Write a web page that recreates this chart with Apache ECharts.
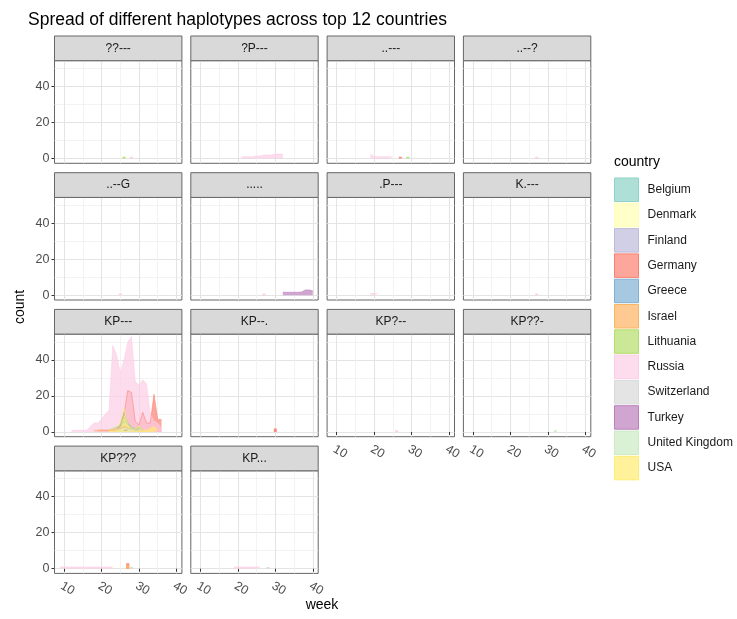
<!DOCTYPE html>
<html>
<head>
<meta charset="utf-8">
<script src="https://cdn.jsdelivr.net/npm/echarts@6/dist/echarts.min.js"></script>
<style>html,body{margin:0;padding:0;background:#fff;}#c{width:737px;height:619px;}</style>
</head>
<body>
<div id="c"></div>
<script>
// ---------- data ----------
const countries = ["Belgium","Denmark","Finland","Germany","Greece","Israel","Lithuania","Russia","Switzerland","Turkey","United Kingdom","USA"];
const palette = ["#8DD3C7","#FFFFB3","#BEBADA","#FB8072","#80B1D3","#FDB462","#B3DE69","#FCCDE5","#D9D9D9","#BC80BD","#CCEBC5","#FFED6F"];
const panelNames = ["??---","?P---","..---","..--?","..--G",".....",".P---","K.---","KP---","KP--.","KP?--","KP??-","KP???","KP..."];
const xTicks = [10,20,30,40];
const yTicks = [0,20,40];

// KP--- panel (weekly counts, null = no record)
const kpWeeks     = [12,13,14,15,16,17,18,19,20,21,22,23,24,25,26,27,28,29,30,31,32,33,34,35,36];
const kpBelgium   = [null,null,null,null,null,null,null,null,null,null,null,null,2,3,6,4,3,1,2,1,null,null,null,null,null];
const kpDenmark   = [null,null,null,null,null,null,null,null,null,null,null,null,null,null,2,1,1,null,null,null,null,null,null,null,null];
const kpFinland   = [null,null,null,null,null,null,null,null,null,null,null,1,2,2,3,2,1,null,null,null,null,null,null,null,null];
const kpGermany   = [null,null,null,null,null,null,null,1,1,1,1,1,2,3,10,23,22,6,4,11,5,5,21,7,7];
const kpGreece    = [null,null,null,null,null,null,null,null,null,null,null,null,2,4,11,5,2,1,2,null,null,null,null,null,null];
const kpIsrael    = [null,null,null,null,null,null,1,1,1,1,1,1,1,2,3,2,2,1,1,null,null,null,null,null,null];
const kpLithuania = [null,null,null,null,null,null,null,null,null,null,1,2,3,4,8,5,3,2,3,1,null,null,null,null,null];
const kpRussia    = [1,1,1,1,1,3,5,5,7,10,12,48,43,33,40,50,53,28,26,29,27,10,6,5,2];
const kpSwitz     = [null,null,null,null,null,null,null,null,null,null,null,null,1,1,2,1,1,1,1,null,null,null,null,null,null];
const kpTurkey    = [null,null,null,null,null,null,null,null,null,null,null,null,null,null,1,1,null,null,null,null,null,null,null,null,null];
const kpUK        = [null,null,null,null,null,null,null,null,null,null,null,null,null,1,2,2,1,1,null,null,null,null,null,null,null];
const kpUSA       = [null,null,null,null,null,null,null,null,null,null,1,1,2,5,13,4,2,1,3,1,1,2,3,1,null];

// small panels: [week, count] pairs
const p_qq_lithuania   = [[26,1]];
const p_qq_russia      = [[28,1]];
const p_qP_russia      = [[21,1],[22,1],[23,1],[24,1],[25,1.5],[26,1.5],[27,2],[28,2],[29,2],[30,2.5],[31,2.5],[32,2.5]];
const p_dd_russia      = [[19,2.5],[20,1],[21,1],[22,1],[23,1],[24,1],[25,1]];
const p_dd_germany     = [[27,1]];
const p_dd_lithuania   = [[29,1]];
const p_ddq_russia     = [[27,1]];
const p_ddG_russia     = [[25,1]];
const p_dots_russia    = [[27,1]];
const p_dots_turkey    = [[32,1.7],[33,1.7],[34,1.7],[35,1.7],[36,1.7],[37,1.8],[38,3],[39,3],[40,2.5]];
const p_dP_russia      = [[19,1],[20,1],[21,1]];
const p_Kd_russia      = [[27,1]];
const p_KPdd_germany   = [[30,2]];
const p_KPq_russia     = [[26,1]];
const p_KPqq_uk        = [[32,1]];
const p_KPqqq_russia   = [[9,1],[10,1],[11,1],[12,1],[13,1],[14,1],[15,1],[16,1],[17,1],[18,1],[19,1],[20,1],[21,1],[22,1],[23,1]];
const p_KPqqq_germany  = [[27,3]];
const p_KPqqq_israel   = [[27,2]];
const p_KPqqq_switz    = [[28,1]];
const p_KPddd_russia   = [[19,1],[20,1],[21,1],[22,1],[23,1],[24,1],[25,1],[26,1]];
const p_KPddd_switz    = [[28,1]];

// ---------- assemble ----------
function zipWeeks(vals){ return kpWeeks.map((w,i)=> vals[i]==null ? [w,null] : [w, vals[i]]); }
const panelSeries = [
  [["Lithuania",p_qq_lithuania],["Russia",p_qq_russia]],
  [["Russia",p_qP_russia]],
  [["Germany",p_dd_germany],["Lithuania",p_dd_lithuania],["Russia",p_dd_russia]],
  [["Russia",p_ddq_russia]],
  [["Russia",p_ddG_russia]],
  [["Russia",p_dots_russia],["Turkey",p_dots_turkey]],
  [["Russia",p_dP_russia]],
  [["Russia",p_Kd_russia]],
  [["Belgium",zipWeeks(kpBelgium)],["Denmark",zipWeeks(kpDenmark)],["Finland",zipWeeks(kpFinland)],["Germany",zipWeeks(kpGermany)],
   ["Greece",zipWeeks(kpGreece)],["Israel",zipWeeks(kpIsrael)],["Lithuania",zipWeeks(kpLithuania)],["Russia",zipWeeks(kpRussia)],
   ["Switzerland",zipWeeks(kpSwitz)],["Turkey",zipWeeks(kpTurkey)],["United Kingdom",zipWeeks(kpUK)],["USA",zipWeeks(kpUSA)]],
  [["Germany",p_KPdd_germany]],
  [["Russia",p_KPq_russia]],
  [["United Kingdom",p_KPqq_uk]],
  [["Germany",p_KPqqq_germany],["Israel",p_KPqqq_israel],["Russia",p_KPqqq_russia],["Switzerland",p_KPqqq_switz]],
  [["Russia",p_KPddd_russia],["Switzerland",p_KPddd_switz]]
];

function rgba(hex,a){const n=parseInt(hex.slice(1),16);return `rgba(${n>>16},${(n>>8)&255},${n&255},${a})`;}
const FONT = "Liberation Sans, Arial, Helvetica, sans-serif";
const colLeft = [54.5, 190.8, 327.1, 463.4];
const panelW = 127.4;
const stripTop = [36, 172.7, 309.4, 446.1];
const stripH = 24.7;
const plotH = 102.6;
const FILL_A = 0.7;

const grids=[], xAxes=[], yAxes=[], series=[], graphics=[];
panelNames.forEach((name,p)=>{
  const col=p%4, row=Math.floor(p/4);
  const top = stripTop[row]+stripH;
  grids.push({left:colLeft[col], top:top, width:panelW, height:plotH, show:true, backgroundColor:'#fff', borderColor:'#666', borderWidth:1, containLabel:false});
  const showX = (row===3) || (row===2 && col>=2);
  const showY = col===0;
  xAxes.push({type:'value', gridIndex:p, min:7.45, max:41.45, splitNumber:4,
    axisLine:{show:false},
    axisTick:{show:showX, customValues:xTicks, length:3, lineStyle:{color:'#333',width:1}},
    axisLabel:{show:showX, customValues:xTicks, rotate:-30, align:'center', verticalAlign:'middle', padding:[0,0,0,8],
      color:'#4D4D4D', fontSize:12.5, fontFamily:FONT, margin:13},
    splitLine:{show:true, lineStyle:{color:'#E4E4E4', width:1.1}},
    minorTick:{show:false, splitNumber:2},
    minorSplitLine:{show:true, lineStyle:{color:'#F0F0F0', width:0.8}}
  });
  yAxes.push({type:'value', gridIndex:p, min:-2.6, max:54.4, splitNumber:3,
    axisLine:{show:false},
    axisTick:{show:showY, customValues:yTicks, length:3, lineStyle:{color:'#333',width:1}},
    axisLabel:{show:showY, customValues:yTicks, color:'#4D4D4D', fontSize:12.5, fontFamily:FONT, margin:5},
    splitLine:{show:true, lineStyle:{color:'#E4E4E4', width:1.1}},
    minorTick:{show:false, splitNumber:2},
    minorSplitLine:{show:true, lineStyle:{color:'#F0F0F0', width:0.8}}
  });
  // strip
  graphics.push({type:'rect', shape:{x:colLeft[col], y:stripTop[row], width:panelW, height:stripH},
    style:{fill:'#D9D9D9', stroke:'#666', lineWidth:1}, z:10});
  graphics.push({type:'text', x:colLeft[col]+panelW/2, y:stripTop[row]+stripH/2,
    style:{text:name, fill:'#1A1A1A', font:'12px '+FONT, textAlign:'center', textVerticalAlign:'middle'}, z:11});
  // series in country order
  const list = panelSeries[p].slice().sort((a,b)=>countries.indexOf(a[0])-countries.indexOf(b[0]));
  list.forEach(([cname,pairs])=>{
    const ci = countries.indexOf(cname);
    const c = palette[ci];
    const single = pairs.length===1;
    const data = single ? [[pairs[0][0],0],[pairs[0][0],pairs[0][1]]] : pairs;
    series.push({type:'line', name:cname, xAxisIndex:p, yAxisIndex:p, data:data,
      showSymbol:false, symbol:'none', silent:true, connectNulls:false,
      itemStyle:{color:c},
      lineStyle:{color:rgba(c, single?0.9:FILL_A), width: single?3:0.8, cap:'butt'},
      areaStyle:{color:rgba(c,FILL_A), opacity:1, origin:0}
    });
  });
});

// axis titles and legend title
graphics.push({type:'text', x:322, y:605, style:{text:'week', fill:'#000', font:'14px '+FONT, textAlign:'center', textVerticalAlign:'middle'}});
graphics.push({type:'text', x:20, y:307, rotation:Math.PI/2, style:{text:'count', fill:'#000', font:'14px '+FONT, textAlign:'center', textVerticalAlign:'middle'}});
graphics.push({type:'text', x:614, y:162, style:{text:'country', fill:'#000', font:'14px '+FONT, textAlign:'left', textVerticalAlign:'middle'}});

const option = {
  animation:false,
  backgroundColor:'#fff',
  title:{text:'Spread of different haplotypes across top 12 countries', left:23, top:6,
    textStyle:{fontSize:17.5, fontWeight:'normal', color:'#000', fontFamily:FONT}},
  legend:{orient:'vertical', left:614, top:177.5, padding:0, itemWidth:24, itemHeight:23.5, itemGap:0.8, icon:'rect',
    selectedMode:false, textStyle:{fontSize:12, color:'#1A1A1A', fontFamily:FONT, padding:[0,0,0,4]},
    data: countries.map((n,i)=>({name:n, itemStyle:{color:rgba(palette[i],FILL_A), borderColor:palette[i], borderWidth:1, opacity:1}}))},
  grid:grids, xAxis:xAxes, yAxis:yAxes, series:series, graphic:graphics
};
const chart = echarts.init(document.getElementById('c'), null, {renderer:'canvas'});
chart.setOption(option);
</script>
</body>
</html>
